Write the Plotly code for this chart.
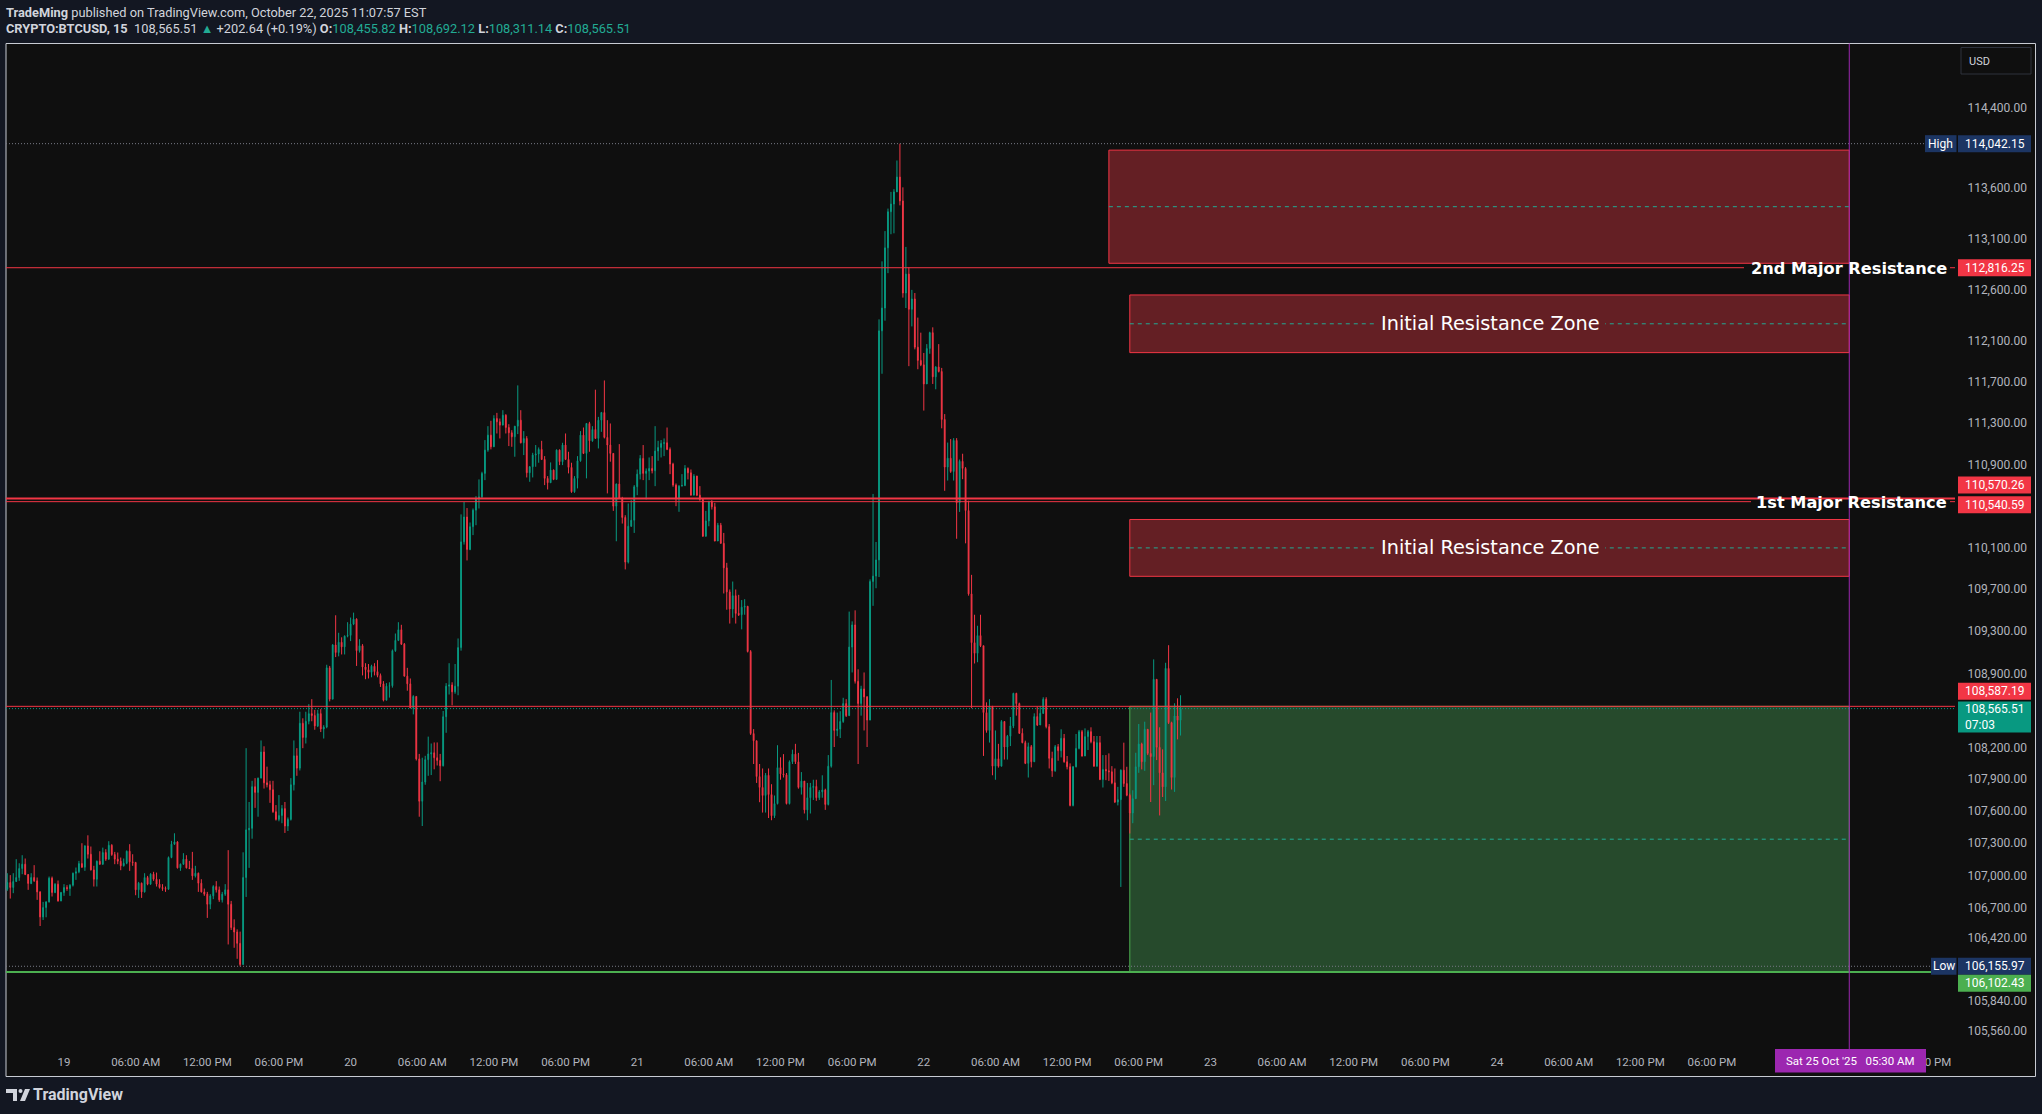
import math
import pandas as pd
import plotly.graph_objects as go

# ---------------- data (BTCUSD 15m) ----------------
FIRST_OPEN = 106871
BAR_START = "2025-10-18 19:15"
bar_closes = [
    106933, 106887, 106943, 106980, 107064, 107104, 107008, 106924, 106980, 106949,
    106846, 106613, 106700, 106753, 106974, 106840, 106918, 106762, 106840, 106887,
    106877, 106908, 107020, 107033, 107110, 107076, 107275, 107197, 107051, 106964,
    107132, 107104, 107213, 107151, 107281, 107194, 107151, 107132, 107089, 107113,
    107225, 107126, 107120, 106865, 106927, 106846, 106980, 106918, 107011, 106964,
    106918, 106887, 106877, 106871, 107166, 107291, 107312, 107070, 107104, 107151,
    107070, 107064, 106995, 107020, 106927, 106846, 106825, 106731, 106809, 106896,
    106865, 106772, 106825, 106865, 106731, 106514, 106473, 106368, 106172, 106980,
    107425, 107439, 107830, 107776, 107910, 108156, 107866, 107848, 107801, 107595,
    107523, 107559, 107624, 107461, 107523, 107848, 108120, 108004, 108427, 108293,
    108446, 108518, 108500, 108402, 108518, 108373, 108391, 108952, 108655, 109169,
    109097, 109195, 109151, 109253, 109260, 109368, 109415, 109115, 109162, 108960,
    108934, 108909, 108967, 108916, 108880, 108800, 108645, 108778, 108782, 109115,
    109213, 109314, 109177, 108873, 108800, 108572, 108681, 108091, 107693, 107874,
    108084, 108138, 108149, 108102, 108076, 108026, 108489, 108778, 108789, 108724,
    108778, 109144, 110154, 110393, 110081, 110300, 110459, 110571, 110587, 110813,
    111038, 111183, 111070, 111344, 111312, 111280, 111376, 111257, 111206, 111167,
    111270, 111328, 111109, 111151, 110819, 110877, 110990, 111000, 111045, 110948,
    110765, 110723, 110845, 110755, 111038, 110926, 111087, 110948, 110871, 110636,
    110765, 110935, 111183, 111006, 111296, 111128, 111238, 111151, 111328, 111402,
    111161, 111087, 111006, 110497, 110710, 110571, 110388, 109960, 110304, 110362,
    110684, 110806, 110958, 110813, 110835, 110861, 110839, 111029, 111064, 111103,
    111109, 111045, 110903, 110700, 110571, 110690, 110697, 110861, 110819, 110603,
    110787, 110603, 110562, 110207, 110355, 110539, 110491, 110162, 110314, 110140,
    109905, 109675, 109512, 109639, 109470, 109457, 109529, 109537, 109107, 108330,
    108262, 107925, 107823, 107747, 107937, 107756, 107557, 107671, 108009, 107950,
    107941, 107671, 108064, 108136, 108064, 107823, 107882, 107612, 107726, 107823,
    107832, 107726, 107781, 107798, 107663, 108022, 108528, 108359, 108372, 108444,
    108613, 108499, 109149, 109360, 108824, 108613, 108752, 108676, 108457, 109774,
    109826, 109981, 112198, 112421, 113012, 113368, 113444, 113564, 113711, 113475,
    112568, 112754, 112408, 112510, 112038, 111909, 111866, 111680, 112025, 112180,
    111749, 111844, 111801, 111335, 110874, 110960, 110831, 111132, 110529, 110930,
    110861, 110455, 109656, 109191, 109090, 109259, 109162, 108528, 108359, 108583,
    108022, 108093, 108022, 108444, 108203, 108305, 108402, 108710, 108613, 108332,
    108244, 108049, 108206, 108064, 108490, 108411, 108521, 108654, 108395, 108096,
    107979, 108206, 108168, 108285, 108064, 108017, 107654, 108017, 108190, 108348,
    108118, 108301, 108348, 108253, 108023, 108244, 107897, 107992, 107979, 107970,
    107866, 107686, 107708, 107985, 107859, 107749, 107582, 107717, 108017, 108231,
    108064, 108370, 108143, 108112, 108843, 108200, 107960, 107828, 108947, 108433,
    107916, 108496, 108455.82, 108565.51,
]
bar_highs = [
    107020, 107002, 107020, 107151, 107113, 107188, 107157, 107011, 107020, 107095,
    106980, 106852, 106753, 106759, 106989, 106989, 106927, 106952, 106846, 106918,
    106908, 106918, 107026, 107073, 107135, 107300, 107281, 107374, 107269, 107089,
    107138, 107225, 107259, 107244, 107319, 107291, 107219, 107213, 107166, 107157,
    107232, 107291, 107197, 107126, 106939, 106933, 107020, 106995, 107020, 107033,
    107026, 106964, 106918, 106896, 107176, 107322, 107393, 107319, 107110, 107207,
    107188, 107135, 107219, 107089, 107026, 106964, 106877, 106846, 106825, 106908,
    106946, 106896, 106846, 106918, 107235, 106762, 106591, 106498, 106477, 107215,
    108192, 107686, 107885, 107910, 107915, 108265, 108210, 108018, 107885, 107885,
    107657, 107751, 107657, 107686, 107541, 107910, 108265, 108192, 108536, 108474,
    108536, 108608, 108655, 108554, 108554, 108561, 108409, 108981, 108970, 109177,
    109452, 109285, 109242, 109260, 109386, 109430, 109477, 109423, 109224, 109177,
    108996, 108988, 108981, 108996, 109025, 108898, 108826, 108807, 108815, 109126,
    109278, 109386, 109361, 109188, 108952, 108851, 108692, 108681, 108138, 108102,
    108120, 108301, 108236, 108246, 108246, 108138, 108543, 108807, 108996, 108815,
    108988, 109231, 110418, 110537, 110479, 110340, 110475, 110594, 110755, 110829,
    111135, 111270, 111322, 111376, 111399, 111344, 111425, 111386, 111289, 111231,
    111272, 111666, 111425, 111222, 111173, 110884, 111012, 111087, 111064, 111128,
    110980, 110787, 110919, 110851, 111045, 111045, 111109, 111199, 111022, 110916,
    110787, 110980, 111222, 111257, 111300, 111312, 111270, 111624, 111360, 111408,
    111714, 111328, 111296, 111010, 110716, 111096, 110587, 110410, 110523, 110555,
    110700, 110851, 110990, 111087, 110861, 110967, 110980, 111270, 111128, 111135,
    111151, 111257, 111064, 110916, 110716, 110700, 110806, 110893, 110871, 110851,
    110806, 110790, 110690, 110571, 110452, 110549, 110555, 110529, 110336, 110336,
    110240, 109953, 109698, 109774, 109698, 109647, 109597, 109605, 109542, 109120,
    108372, 108262, 108043, 108001, 107958, 108001, 107853, 107747, 108220, 108106,
    108136, 107958, 108077, 108178, 108233, 108148, 107967, 107882, 107865, 107865,
    107895, 107895, 107798, 107937, 107811, 108127, 108837, 108549, 108528, 108541,
    108668, 108655, 109487, 109394, 109499, 108938, 108782, 108908, 108685, 109795,
    110615, 110153, 112310, 112879, 113177, 113399, 113564, 113591, 113875, 114042.15,
    113609, 113021, 112821, 112599, 112568, 112327, 112180, 111982, 112068, 112189,
    112232, 111853, 112068, 111836, 111387, 111111, 111145, 111154, 111154, 110947,
    111003, 110874, 110550, 109838, 109457, 109352, 109457, 109162, 108625, 108655,
    108592, 108359, 108233, 108457, 108444, 108317, 108486, 108715, 108715, 108622,
    108379, 108263, 108244, 108222, 108521, 108584, 108591, 108673, 108673, 108420,
    108159, 108222, 108231, 108370, 108326, 108118, 108049, 108023, 108326, 108364,
    108364, 108379, 108364, 108389, 108307, 108307, 108307, 108127, 108127, 108143,
    108023, 108001, 107828, 107992, 108244, 108017, 107765, 107796, 108149, 108420,
    108244, 108442, 108370, 108528, 109032, 108843, 108389, 108181, 109000, 109167,
    108442, 108616, 108663, 108692.12,
]
bar_lows = [
    106856, 106784, 106834, 106939, 106949, 107011, 107002, 106865, 106918, 106939,
    106772, 106529, 106585, 106610, 106747, 106803, 106834, 106755, 106759, 106809,
    106856, 106809, 106896, 106958, 107020, 107070, 107042, 107157, 107045, 106896,
    106896, 107098, 107098, 107135, 107145, 107182, 107104, 107104, 107048, 107082,
    107104, 107042, 107089, 106815, 106790, 106790, 106840, 106908, 106912, 106949,
    106896, 106877, 106856, 106846, 106865, 107160, 107284, 107064, 107042, 107098,
    107064, 107058, 106958, 106980, 106846, 106840, 106809, 106604, 106685, 106778,
    106840, 106753, 106747, 106809, 106358, 106492, 106327, 106225, 106155.97, 106170,
    106799, 107070, 107342, 107631, 107548, 107910, 107812, 107823, 107678, 107584,
    107512, 107505, 107487, 107396, 107414, 107512, 107794, 107932, 107982, 108192,
    108236, 108417, 108446, 108366, 108391, 108344, 108283, 108380, 108634, 108655,
    109054, 109061, 109079, 109079, 109242, 109206, 109358, 108970, 109097, 108880,
    108844, 108851, 108862, 108880, 108862, 108771, 108634, 108645, 108670, 108764,
    109104, 109206, 109169, 108870, 108735, 108570, 108511, 108076, 107548, 107461,
    107848, 107932, 107939, 107993, 108029, 107881, 108020, 108337, 108699, 108597,
    108706, 108692, 109115, 110128, 109976, 110074, 110219, 110314, 110475, 110571,
    110748, 111022, 111045, 111070, 111199, 111151, 111280, 111199, 111077, 111070,
    110974, 111193, 111103, 110990, 110774, 110732, 110774, 110877, 110916, 110942,
    110700, 110658, 110723, 110748, 110755, 110893, 110893, 110942, 110813, 110626,
    110626, 110668, 110926, 111000, 110765, 111022, 111119, 111148, 111054, 111215,
    111151, 110620, 110926, 110452, 110160, 110568, 110330, 109890, 109947, 110298,
    110240, 110603, 110755, 110748, 110562, 110748, 110813, 110690, 110935, 110967,
    110980, 111038, 110806, 110684, 110497, 110443, 110690, 110690, 110755, 110600,
    110603, 110594, 110549, 110205, 110207, 110304, 110465, 110160, 110162, 110135,
    109660, 109505, 109373, 109428, 109373, 109445, 109318, 109457, 109098, 108317,
    108043, 107865, 107684, 107587, 107587, 107536, 107515, 107536, 107663, 107895,
    107916, 107663, 107663, 108043, 108043, 107811, 107756, 107578, 107515, 107578,
    107705, 107697, 107705, 107726, 107612, 107654, 108009, 108203, 108305, 108288,
    108431, 108486, 108499, 108908, 108803, 108043, 108499, 108359, 108203, 108457,
    109542, 109710, 109817, 111779, 112297, 112763, 113146, 113155, 113564, 113431,
    112523, 112421, 111853, 112241, 112017, 111823, 111853, 111421, 111680, 111974,
    111680, 111628, 111792, 111249, 110645, 110744, 110818, 110744, 110184, 110442,
    110757, 110140, 109639, 108570, 108993, 109005, 109149, 108119, 108338, 108245,
    107937, 107895, 108009, 108022, 108085, 108085, 108212, 108381, 108499, 108326,
    108238, 108042, 107916, 108011, 108064, 108401, 108411, 108515, 108379, 108001,
    107922, 107970, 108074, 108105, 108055, 107992, 107645, 107645, 108011, 108181,
    108112, 108118, 108175, 108238, 108017, 108017, 107891, 107822, 107891, 107884,
    107853, 107676, 107654, 106892, 107828, 107740, 107391, 107487, 107717, 107960,
    107992, 107979, 108127, 107686, 107844, 108080, 107560, 107733, 107695, 108420,
    107803, 107781, 108275, 108311.14,
]
assert len(bar_closes) == len(bar_highs) == len(bar_lows)

price_ticks = [114400, 113600, 113100, 112600, 112100, 111700, 111300, 110900,
               110100, 109700, 109300, 108900, 108200, 107900, 107600, 107300,
               107000, 106700, 106420, 105840, 105560]
# the "25" and "06:00 AM" labels of the 25th sit under the date badge in the reference
time_tick_labels = ["19", "06:00 AM", "12:00 PM", "06:00 PM",
                    "20", "06:00 AM", "12:00 PM", "06:00 PM",
                    "21", "06:00 AM", "12:00 PM", "06:00 PM",
                    "22", "06:00 AM", "12:00 PM", "06:00 PM",
                    "23", "06:00 AM", "12:00 PM", "06:00 PM",
                    "24", "06:00 AM", "12:00 PM", "06:00 PM",
                    "", "", "12:00 PM"]

HIGH_PRICE = 114042.15
LOW_PRICE = 106155.97
SECOND_MAJOR = 112816.25
FIRST_MAJOR_UPPER = 110570.26
FIRST_MAJOR = 110540.59
DEMAND_TOP = 108587.19
DEMAND_BOTTOM = 106102.43
LAST_PRICE = 108565.51
COUNTDOWN = "07:03"
MARKER_TIME = "2025-10-25 05:30"

resistance_zones = [
    ("2025-10-22 15:30", 112860, 113978, ""),
    ("2025-10-22 17:15", 111985, 112549, "Initial Resistance Zone"),
    ("2025-10-22 17:15", 109824, 110369, "Initial Resistance Zone"),
]
DEMAND_START = "2025-10-22 17:15"

header_1 = "<b>TradeMing</b> published on TradingView.com, October 22, 2025 11:07:57 EST"
hdr_ohlc = {"O": "108,455.82", "H": "108,692.12", "L": "108,311.14", "C": "108,565.51"}
hdr_change = "+202.64 (+0.19%)"

# ---------------- style / layout constants ----------------
W, H = 2042, 1114
PLOT_L, PLOT_R, PLOT_T, PLOT_B = 6, 1955, 44, 1046
PLOT_W, PLOT_H = PLOT_R - PLOT_L, PLOT_B - PLOT_T
Y_RANGE = [5.022928, 5.060836]
X_RANGE = ["2025-10-18 19:08:35", "2025-10-25 14:21:12"]

UP = "#089981"
DN = "#f23645"
RED = "#f23645"
NAVY = "#1c3563"
GREEN = "#4caf50"
PURPLE = "#9c27b0"
BG_IN = "#0f0f0f"
BG_OUT = "#131722"
TXT = "#d1d4dc"
AX_TXT = "#b2b5be"
ZONE_RED_FILL = "#641f24"
ZONE_GREEN_FILL = "#264a2c"
MID_DASH = "#22ab94"
FONT = "Roboto, 'Open Sans', sans-serif"
LBL_FONT = "'DejaVu Sans', sans-serif"


def px_x(px):
    return (px - PLOT_L) / PLOT_W


def px_y(py):
    return (PLOT_B - py) / PLOT_H


def price_y(p):
    return (math.log10(p) - Y_RANGE[0]) / (Y_RANGE[1] - Y_RANGE[0])


def price_px(p):
    return PLOT_B - price_y(p) * PLOT_H


times = pd.date_range(BAR_START, periods=len(bar_closes), freq="15min")
opens = [FIRST_OPEN] + bar_closes[:-1]
time_ticks = pd.date_range("2025-10-19 00:00", periods=len(time_tick_labels), freq="6h")

fig = go.Figure()
fig.add_trace(go.Candlestick(
    x=times, open=opens, high=bar_highs, low=bar_lows, close=bar_closes,
    increasing=dict(line=dict(color=UP, width=1), fillcolor=UP),
    decreasing=dict(line=dict(color=DN, width=1), fillcolor=DN),
    whiskerwidth=0, showlegend=False, hoverinfo="skip",
))

shapes = []
annotations = []

# frame around the chart
shapes.append(dict(type="rect", xref="paper", yref="paper", layer="below",
                   x0=px_x(6), x1=px_x(2035.5), y0=px_y(1076.5), y1=px_y(43.5),
                   line=dict(color="#c8cbd3", width=1), fillcolor=BG_IN))

# zones
for x0, y0, y1, label in resistance_zones:
    shapes.append(dict(type="rect", xref="x", yref="y", layer="below",
                       x0=x0, x1=MARKER_TIME, y0=y0, y1=y1,
                       line=dict(color=RED, width=1), fillcolor=ZONE_RED_FILL))
    mid = math.sqrt(y0 * y1)
    shapes.append(dict(type="line", xref="x", yref="y", layer="below",
                       x0=x0, x1=MARKER_TIME, y0=mid, y1=mid,
                       line=dict(color=MID_DASH, width=1, dash="4px,4px")))
    if label:
        annotations.append(dict(xref="paper", yref="paper", x=px_x(1490), y=price_y(mid),
                                xanchor="center", yanchor="middle", text=label, showarrow=False,
                                bgcolor=ZONE_RED_FILL, borderpad=5, borderwidth=0,
                                font=dict(family=LBL_FONT, size=19.3, color="#ffffff")))

shapes.append(dict(type="rect", xref="x", yref="y", layer="below",
                   x0=DEMAND_START, x1=MARKER_TIME, y0=DEMAND_BOTTOM, y1=DEMAND_TOP,
                   line=dict(color=GREEN, width=1), fillcolor=ZONE_GREEN_FILL))
dmid = math.sqrt(DEMAND_BOTTOM * DEMAND_TOP)
shapes.append(dict(type="line", xref="x", yref="y", layer="below",
                   x0=DEMAND_START, x1=MARKER_TIME, y0=dmid, y1=dmid,
                   line=dict(color=MID_DASH, width=1, dash="4px,4px")))


def hline(price, x0px, x1px, color, width=1, dash="solid"):
    shapes.append(dict(type="line", xref="paper", yref="y", x0=px_x(x0px), x1=px_x(x1px),
                       y0=price, y1=price, line=dict(color=color, width=width, dash=dash)))


# horizontal levels
hline(HIGH_PRICE, PLOT_L, 1925, "#787b86", 1, "1px,2px")
hline(LOW_PRICE, PLOT_L, 1931, "#787b86", 1, "1px,2px")
hline(SECOND_MAJOR, PLOT_L, 1744, RED)
hline(SECOND_MAJOR, 1950, PLOT_R, RED)
hline(FIRST_MAJOR_UPPER, PLOT_L, PLOT_R, RED, 2)
hline(FIRST_MAJOR, PLOT_L, 1751, RED)
hline(FIRST_MAJOR, 1950, PLOT_R, RED)
hline(DEMAND_TOP, PLOT_L, PLOT_R, RED)
hline(LAST_PRICE, PLOT_L, PLOT_R, UP, 1, "1px,2px")
hline(DEMAND_BOTTOM, PLOT_L, PLOT_R, GREEN, 2)

# vertical marker
shapes.append(dict(type="line", xref="x", yref="paper", x0=MARKER_TIME, x1=MARKER_TIME,
                   y0=px_y(1050), y1=px_y(43.5), line=dict(color=PURPLE, width=1)))

# level labels
annotations.append(dict(xref="paper", yref="paper", x=px_x(1947), y=price_y(SECOND_MAJOR) - 1 / PLOT_H,
                        xanchor="right", yanchor="middle", text="<b>2nd Major Resistance</b>",
                        showarrow=False, borderpad=0, borderwidth=0,
                        font=dict(family=LBL_FONT, size=16.2, color="#ffffff")))
annotations.append(dict(xref="paper", yref="paper", x=px_x(1947), y=price_y(FIRST_MAJOR) - 1 / PLOT_H,
                        xanchor="right", yanchor="middle", text="<b>1st Major Resistance</b>",
                        showarrow=False, borderpad=0, borderwidth=0,
                        font=dict(family=LBL_FONT, size=16.2, color="#ffffff")))


def badge(text, yc_px, bg, x0=1958, x1=2031, h=17, text_x=None, align="center", color="#ffffff"):
    shapes.append(dict(type="rect", xref="paper", yref="paper", x0=px_x(x0), x1=px_x(x1),
                       y0=px_y(yc_px + h / 2), y1=px_y(yc_px - h / 2),
                       line=dict(width=0), fillcolor=bg))
    if text_x is None:
        annotations.append(dict(xref="paper", yref="paper", x=px_x((x0 + x1) / 2), y=px_y(yc_px),
                                xanchor="center", yanchor="middle", text=text, showarrow=False,
                                align=align, borderpad=0, borderwidth=0,
                                font=dict(family=FONT, size=12, color=color)))
    else:
        annotations.append(dict(xref="paper", yref="paper", x=px_x(text_x), y=px_y(yc_px),
                                xanchor="left", yanchor="middle", text=text, showarrow=False,
                                align=align, borderpad=0, borderwidth=0,
                                font=dict(family=FONT, size=12, color=color)))


fmt = lambda v: f"{v:,.2f}"
badge(fmt(HIGH_PRICE), price_px(HIGH_PRICE), NAVY)
badge("High", price_px(HIGH_PRICE), NAVY, x0=1925, x1=1956.5)
badge(fmt(SECOND_MAJOR), price_px(SECOND_MAJOR), RED)
badge(fmt(FIRST_MAJOR_UPPER), price_px(FIRST_MAJOR_UPPER) - 13.5, RED)
badge(fmt(FIRST_MAJOR), price_px(FIRST_MAJOR) + 3, RED)
badge(fmt(DEMAND_TOP), price_px(DEMAND_TOP) - 15, RED)
badge(fmt(LAST_PRICE) + "<br>" + COUNTDOWN, price_px(LAST_PRICE) + 8.5, UP, h=31,
      text_x=1965, align="left")
badge(fmt(LOW_PRICE), price_px(LOW_PRICE), NAVY)
badge("Low", price_px(LOW_PRICE), NAVY, x0=1931, x1=1956.5)
badge(fmt(DEMAND_BOTTOM), price_px(LOW_PRICE) + 17, GREEN)

# date badge on the time axis
shapes.append(dict(type="rect", xref="paper", yref="paper", x0=px_x(1775), x1=px_x(1926),
                   y0=px_y(1072.5), y1=px_y(1049), line=dict(width=0), fillcolor=PURPLE))
annotations.append(dict(xref="paper", yref="paper", x=px_x(1850.5), y=px_y(1060.8),
                        xanchor="center", yanchor="middle",
                        text="Sat 25 Oct '25&nbsp;&nbsp;&nbsp;05:30 AM", showarrow=False,
                        borderpad=0, borderwidth=0, font=dict(family=FONT, size=11.5, color="#ffffff")))

# USD button
shapes.append(dict(type="rect", xref="paper", yref="paper", x0=px_x(1961), x1=px_x(2031),
                   y0=px_y(74), y1=px_y(47.5), line=dict(color="#2e323d", width=1), fillcolor=BG_IN))
annotations.append(dict(xref="paper", yref="paper", x=px_x(1969), y=px_y(61),
                        xanchor="left", yanchor="middle", text="USD", showarrow=False,
                        borderpad=0, borderwidth=0, font=dict(family=FONT, size=11, color=TXT)))

# header
annotations.append(dict(xref="paper", yref="paper", x=px_x(6), y=px_y(12),
                        xanchor="left", yanchor="middle", text=header_1, showarrow=False,
                        borderpad=0, borderwidth=0, font=dict(family=FONT, size=12.8, color=TXT)))
teal_txt = "#22ab94"
header_2 = ("<b>CRYPTO:BTCUSD, 15</b>  " + fmt(LAST_PRICE)
            + f" <span style='color:{teal_txt}'>▲</span> " + hdr_change + " "
            + " ".join(f"<b>{k}:</b><span style='color:{teal_txt}'>{v}</span>" for k, v in hdr_ohlc.items()))
annotations.append(dict(xref="paper", yref="paper", x=px_x(6), y=px_y(29),
                        xanchor="left", yanchor="middle", text=header_2, showarrow=False,
                        borderpad=0, borderwidth=0, font=dict(family=FONT, size=12.8, color=TXT)))

# TradingView footer logo + text
shapes.append(dict(type="path", xref="paper", yref="paper", fillcolor=TXT, line=dict(width=0),
                   path=(f"M {px_x(6)},{px_y(1089)} L {px_x(17)},{px_y(1089)} L {px_x(17)},{px_y(1101)} "
                         f"L {px_x(13)},{px_y(1101)} L {px_x(13)},{px_y(1093)} L {px_x(6)},{px_y(1093)} Z")))
shapes.append(dict(type="circle", xref="paper", yref="paper", fillcolor=TXT, line=dict(width=0),
                   x0=px_x(18.5), x1=px_x(22.5), y0=px_y(1093), y1=px_y(1089)))
shapes.append(dict(type="path", xref="paper", yref="paper", fillcolor=TXT, line=dict(width=0),
                   path=(f"M {px_x(25)},{px_y(1089)} L {px_x(30)},{px_y(1089)} L {px_x(25)},{px_y(1101)} "
                         f"L {px_x(20)},{px_y(1101)} Z")))
annotations.append(dict(xref="paper", yref="paper", x=px_x(33), y=px_y(1094.5),
                        xanchor="left", yanchor="middle", text="<b>TradingView</b>", showarrow=False,
                        borderpad=0, borderwidth=0, font=dict(family=FONT, size=16, color=TXT)))

fig.update_layout(
    width=W, height=H,
    margin=dict(l=PLOT_L, r=W - PLOT_R, t=PLOT_T, b=H - PLOT_B, pad=0),
    paper_bgcolor=BG_OUT, plot_bgcolor=BG_IN,
    showlegend=False, hovermode=False, boxgap=0.6,
    shapes=shapes, annotations=annotations,
    xaxis=dict(type="date", range=X_RANGE, rangeslider=dict(visible=False),
               tickvals=list(time_ticks), ticktext=time_tick_labels,
               showgrid=False, zeroline=False, showline=False,
               ticks="outside", ticklen=5, tickcolor="rgba(0,0,0,0)",
               tickfont=dict(family=FONT, size=11.5, color=AX_TXT)),
    yaxis=dict(type="log", range=Y_RANGE, side="right",
               tickvals=price_ticks, ticktext=[fmt(v) for v in price_ticks],
               showgrid=False, zeroline=False, showline=False,
               ticks="outside", ticklen=9, tickcolor="rgba(0,0,0,0)",
               tickfont=dict(family=FONT, size=12, color=AX_TXT)),
)

fig.write_html("out.html", config={"displayModeBar": False},
               post_script="document.body.style.margin='0';document.body.style.background='#131722';")
